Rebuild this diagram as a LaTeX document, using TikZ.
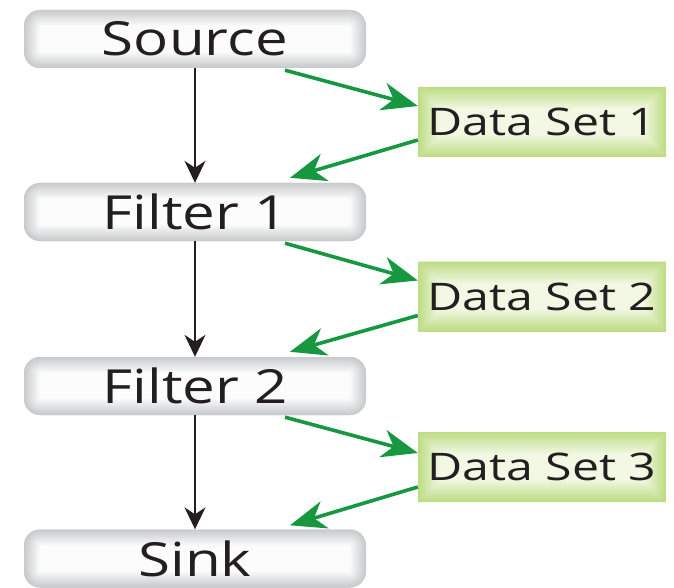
\documentclass[tikz,border=0pt]{standalone}
\usepackage{fontspec}
\setmainfont{Open Sans}
\usetikzlibrary{arrows.meta,calc}

\definecolor{flowgreen}{HTML}{17973F}
\definecolor{inkblack}{HTML}{231F20}
\definecolor{greyedge}{HTML}{C9CACC}
\definecolor{greycore}{HTML}{FCFCFC}
\definecolor{greenedge}{HTML}{BEDC84}
\definecolor{greencore}{HTML}{F2F8E4}

% soft inner glow: nested insets blending from the edge colour to the core colour
\newcommand\glowfill[4]{% edge, core, steps, corner radius
  \foreach \i in {0,...,#3}{%
    \pgfmathtruncatemacro\mixp{100*\i/#3}%
    \pgfmathsetmacro\rad{max(#4-\i,0.5)}%
    \fill[#2!\mixp!#1, rounded corners=\rad pt]
      ([shift={(\i pt,\i pt)}]path picture bounding box.south west) rectangle
      ([shift={(-\i pt,-\i pt)}]path picture bounding box.north east);
  }}

\newcommand\stagelabel[1]{\scalebox{1.24}[1]{\fontsize{47}{47}\selectfont #1}}
\newcommand\datalabel[1]{\scalebox{1.27}[1]{\fontsize{38}{38}\selectfont #1}}

\tikzset{
  stagebox/.style={rectangle, rounded corners=16pt, inner sep=0pt,
    minimum width=342pt, minimum height=58pt, text=inkblack,
    fill=greyedge, path picture={\glowfill{greyedge}{greycore}{16}{16}}},
  databox/.style={rectangle, inner sep=0pt,
    minimum width=248pt, minimum height=70pt, text=inkblack,
    fill=greenedge, path picture={\glowfill{greenedge}{greencore}{22}{0}}},
  flowdown/.style={draw=inkblack, line width=1.6pt,
    -{Stealth[length=22pt,width=21pt,inset=7pt]}},
  flowside/.style={draw=flowgreen, line width=3.6pt,
    -{Stealth[length=36pt,width=28pt,inset=11pt]}},
}

\begin{document}
\begin{tikzpicture}[x=1pt,y=-1pt]
  \useasboundingbox[fill=white] (0,0) rectangle (674,588);

  % pipeline stages
  \node[stagebox] (src)  at (195,39)    {\stagelabel{Source}};
  \node[stagebox] (f1)   at (195,212)   {\stagelabel{Filter 1}};
  \node[stagebox] (f2)   at (195,386)   {\stagelabel{Filter 2}};
  \node[stagebox] (sink) at (195,558.5) {\stagelabel{Sink}};

  % intermediate data
  \node[databox] (ds1) at (542,122)   {\datalabel{Data Set 1}};
  \node[databox] (ds2) at (542,296.5) {\datalabel{Data Set 2}};
  \node[databox] (ds3) at (542,467)   {\datalabel{Data Set 3}};

  % execution order
  \draw[flowdown] (src) -- (f1);
  \draw[flowdown] (f1) -- (f2);
  \draw[flowdown] (f2) -- (sink);

  % data produced and consumed
  \draw[flowside] ([xshift=90pt,yshift=-2pt]src.south) -- ([yshift=16pt]ds1.west);
  \draw[flowside] ([yshift=-18pt]ds1.west) -- ([xshift=95pt,yshift=5pt]f1.north);
  \draw[flowside] ([xshift=90pt,yshift=-2pt]f1.south) -- ([yshift=16pt]ds2.west);
  \draw[flowside] ([yshift=-19pt]ds2.west) -- ([xshift=95pt,yshift=5pt]f2.north);
  \draw[flowside] ([xshift=90pt,yshift=-2pt]f2.south) -- ([yshift=14pt]ds3.west);
  \draw[flowside] ([yshift=-20pt]ds3.west) -- ([xshift=95pt,yshift=4pt]sink.north);
\end{tikzpicture}
\end{document}
